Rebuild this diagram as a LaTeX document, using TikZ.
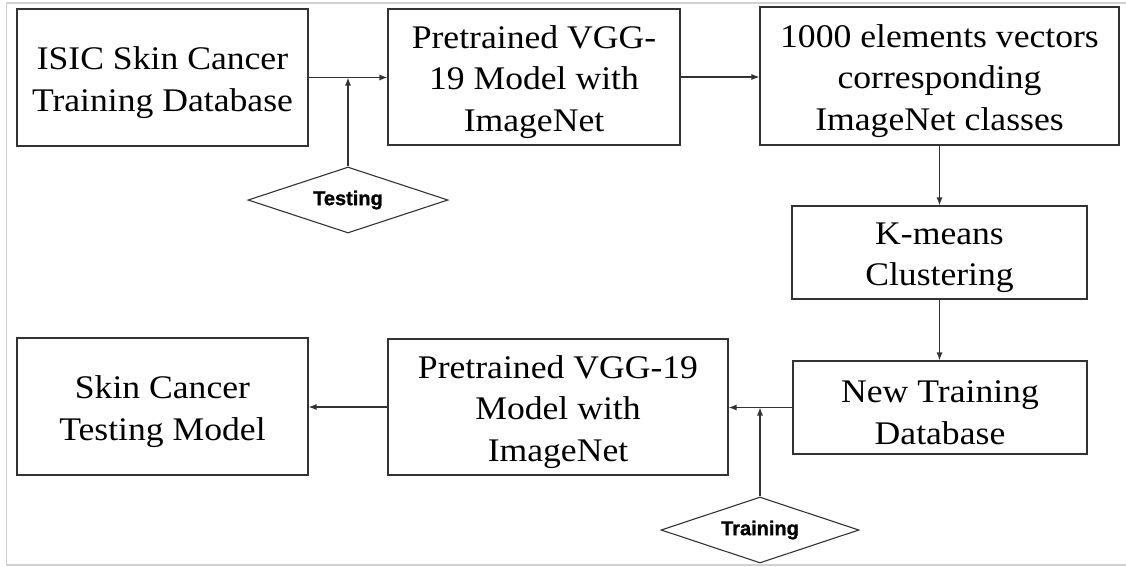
\documentclass[tikz,border=0pt]{standalone}
\usepackage{fontspec}
\setmainfont{Liberation Serif}[FakeStretch=1.08]
\newfontfamily\diafont{Liberation Sans Bold}[FakeBold=1.2]
\usetikzlibrary{arrows.meta,shapes.geometric}

\begin{document}
\begin{tikzpicture}[x=1pt,y=-1pt,>={Latex[length=8pt,width=6pt]},line width=1.1pt,
  blk/.style={draw=black!80,inner sep=0pt},
  txt/.style={inner sep=0pt,align=center,yshift=-5pt,font=\fontsize{33}{41.5}\selectfont},
  dia/.style={draw=black!80,diamond,aspect=3,inner sep=0pt,minimum width=200pt,minimum height=66pt,
    font=\diafont\fontsize{20}{24}\selectfont},
  flow/.style={->,draw=black!80}]
  \useasboundingbox (0,0) rectangle (1126,566);
  \draw[black!18,line width=1.5pt] (1126,3) -- (6.5,3) -- (6.5,565) -- (1126,565);

  \node[blk,minimum width=291pt,minimum height=137pt] (isic) at (162.5,77.5) {};
  \node[blk,minimum width=292pt,minimum height=136pt] (vggtop) at (534,77) {};
  \node[blk,minimum width=359pt,minimum height=138pt] (vectors) at (939.5,76) {};
  \node[blk,minimum width=295pt,minimum height=93pt] (kmeans) at (939.5,252.5) {};
  \node[blk,minimum width=294pt,minimum height=93pt] (newdb) at (940,407.5) {};
  \node[blk,minimum width=340pt,minimum height=136pt] (vggbot) at (558,407) {};
  \node[blk,minimum width=291pt,minimum height=137pt] (skinmodel) at (162.5,406.5) {};

  \node[txt] (isictext) at (isic.center) {ISIC Skin Cancer\\Training Database};
  \node[txt] (vggtoptext) at (vggtop.center) {Pretrained VGG-\\19 Model with\\ImageNet};
  \node[txt] (vectorstext) at (vectors.center)
     {1000 elements vectors\\corresponding\\ImageNet classes};
  \node[txt] (kmeanstext) at (kmeans.center) {K-means\\Clustering};
  \node[txt] (newdbtext) at (newdb.center) {New Training\\Database};
  \node[txt] (vggbottext) at (vggbot.center) {Pretrained VGG-19\\Model with\\ImageNet};
  \node[txt] (skinmodeltext) at (skinmodel.center) {Skin Cancer\\Testing Model};

  \node[dia] (testing) at (348,200) {Testing};
  \node[dia,minimum width=198pt] (training) at (760,530) {Training};

  \coordinate (testjoin) at (testing.north |- isic.east);
  \coordinate (trainjoin) at (training.north |- newdb.west);
  \draw[flow] (isic.east) -- (isic.east -| vggtop.west);
  \draw[flow] (testing.north) -- (testjoin);
  \draw[flow] (vggtop.east) -- (vggtop.east -| vectors.west);
  \draw[flow] (vectors.south) -- (kmeans.north);
  \draw[flow] (kmeans.south) -- (kmeans.south |- newdb.north);
  \draw[flow] (newdb.west) -- (newdb.west -| vggbot.east);
  \draw[flow] (training.north) -- (trainjoin);
  \draw[flow] (vggbot.west) -- (vggbot.west -| skinmodel.east);
\end{tikzpicture}
\end{document}
